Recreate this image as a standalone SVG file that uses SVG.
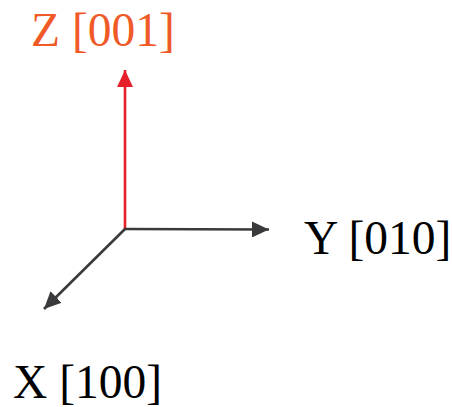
<svg xmlns="http://www.w3.org/2000/svg" width="452" height="407" viewBox="0 0 452 407">
<style>
.lbl{font-family:"Liberation Serif","Times New Roman",serif;font-size:47.5px}
.ax{stroke-width:2.6;fill:none}
</style>
<defs>
<marker id="ahRed" viewBox="0 0 17 16" refX="17" refY="8" markerUnits="userSpaceOnUse" markerWidth="17" markerHeight="16" orient="auto"><path d="M0,0 L17,8 L0,16 z" fill="#E5202B"/></marker>
<marker id="ahDark" viewBox="0 0 17 16" refX="17" refY="8" markerUnits="userSpaceOnUse" markerWidth="17" markerHeight="16" orient="auto"><path d="M0,0 L17,8 L0,16 z" fill="#3A3A3C"/></marker>
</defs>
<g id="connectors">
<line class="ax" x1="125" y1="229" x2="125" y2="70" stroke="#E5202B" marker-end="url(#ahRed)"/>
<line class="ax" x1="124" y1="229" x2="269" y2="229.5" stroke="#3A3A3C" marker-end="url(#ahDark)"/>
<line class="ax" x1="125" y1="229" x2="44" y2="309" stroke="#3A3A3C" marker-end="url(#ahDark)"/>
</g>
<g id="z-label"><text class="lbl" x="31" y="46" fill="#F05A28">Z [001]</text></g>
<g id="y-label"><text class="lbl" x="304" y="254" fill="#000">Y [010]</text></g>
<g id="x-label"><text class="lbl" x="13" y="398" fill="#000">X [100]</text></g>
</svg>
